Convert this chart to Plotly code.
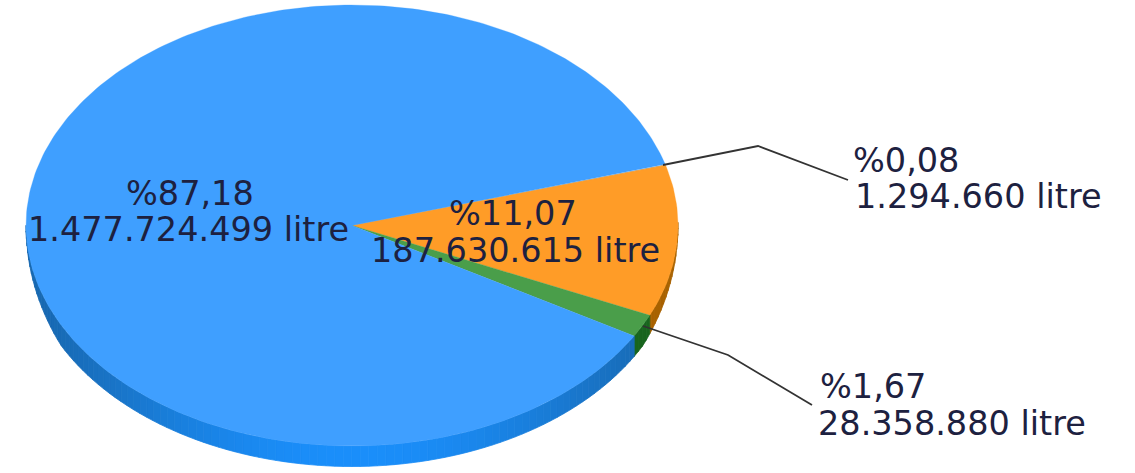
import math
import plotly.graph_objects as go

# Data
slice_names = ["Dilim D", "Dilim B", "Dilim C", "Dilim A"]
litres = [1294660, 187630615, 28358880, 1477724499]
percent_labels = ["%0,08", "%11,07", "%1,67", "%87,18"]
litre_labels = ["1.294.660 litre", "187.630.615 litre", "28.358.880 litre", "1.477.724.499 litre"]

# Styling and layout (pixel space of the page)
W, H = 1135, 473
CX, CY, RX, RY, DEPTH = 352, 225.5, 326, 220.5, 20.5
START_DEG = 16.1
TOP_COLORS = ["#c98a3a", "#ff9c27", "#4a9e4a", "#3f9fff"]
WALL_DARK = [(150, 90, 10), (168, 98, 0), (24, 100, 30), (24, 104, 176)]
WALL_BRIGHT = [(170, 100, 10), (176, 104, 0), (28, 110, 34), (26, 142, 250)]
TEXT = "#1d2140"
FONT = "DejaVu Sans"
FS = 33.5

# label placement: (x, y, anchor) for first and second line of each slice
LABEL_POS = [
    ((851, 160, "left"), (853, 196, "left")),
    ((513, 213, "center"), (515, 250, "center")),
    ((818, 386, "left"), (816, 423, "left")),
    ((190, 193, "center"), (188, 229, "center")),
]
LEADERS = [
    "M 663 165 L 758 146 L 848 180",
    None,
    "M 643 326 L 728 355 L 812 405",
    None,
]


def pt(deg, dy=0.0):
    a = math.radians(deg)
    return CX + RX * math.cos(a), CY - RY * math.sin(a) + dy


def wall_depth(deg):
    s = -math.sin(math.radians(deg))
    return DEPTH * max(0.0, min(1.0, s / 0.45))


def mix(a, b, t):
    return "rgb(%d,%d,%d)" % tuple(round(a[i] + (b[i] - a[i]) * t) for i in range(3))


total = sum(litres)
edges = [START_DEG]
for v in litres:
    edges.append(edges[-1] - v / total * 360.0)

fig = go.Figure()


def add_fill(xs, ys, color):
    fig.add_trace(go.Scatter(
        x=xs, y=ys, mode="lines", fill="toself", fillcolor=color,
        line=dict(color=color, width=0.8), hoverinfo="skip", showlegend=False,
    ))


# Side wall: only the front half of the ellipse shows (sin < 0)
STEP = 1.5
for i in range(len(litres)):
    a0, a1 = edges[i], edges[i + 1]
    a = a0
    while a > a1:
        b = max(a - STEP, a1)
        mid = (a + b) / 2
        if wall_depth(a) > 0 or wall_depth(b) > 0:
            t = max(0.0, -math.sin(math.radians(mid))) ** 3
            p = [pt(a), pt(b), pt(b, wall_depth(b)), pt(a, wall_depth(a))]
            add_fill([q[0] for q in p] + [p[0][0]], [q[1] for q in p] + [p[0][1]],
                     mix(WALL_DARK[i], WALL_BRIGHT[i], t))
        a = b

# Top face
for i in range(len(litres)):
    a0, a1 = edges[i], edges[i + 1]
    n = max(2, int(abs(a0 - a1) / 1.0))
    arc = [pt(a0 + (a1 - a0) * k / n) for k in range(n + 1)]
    xs = [CX] + [q[0] for q in arc] + [CX]
    ys = [CY] + [q[1] for q in arc] + [CY]
    fig.add_trace(go.Scatter(
        x=xs, y=ys, mode="lines", fill="toself", fillcolor=TOP_COLORS[i],
        line=dict(color=TOP_COLORS[i], width=0.3), hoverinfo="skip", showlegend=False,
    ))

# Labels
annotations = []
for i in range(len(litres)):
    for text, (x, y, anchor) in zip((percent_labels[i], litre_labels[i]), LABEL_POS[i]):
        annotations.append(dict(
            x=x, y=y, xref="x", yref="y", text=text, showarrow=False,
            xanchor=anchor, yanchor="middle", align=anchor,
            font=dict(family=FONT, size=FS, color=TEXT),
        ))

shapes = [dict(type="path", path=p, xref="x", yref="y",
               line=dict(color="#333333", width=1.8), layer="above")
          for p in LEADERS if p]

fig.update_layout(
    width=W, height=H, autosize=False,
    margin=dict(l=0, r=0, t=0, b=0),
    paper_bgcolor="white", plot_bgcolor="white",
    xaxis=dict(range=[0, W], visible=False, fixedrange=True),
    yaxis=dict(range=[H, 0], visible=False, fixedrange=True),
    annotations=annotations, shapes=shapes, showlegend=False,
)

fig.write_html(
    "out.html",
    config={"displayModeBar": False},
    post_script="document.body.style.margin='0';document.body.style.overflow='hidden';",
)
